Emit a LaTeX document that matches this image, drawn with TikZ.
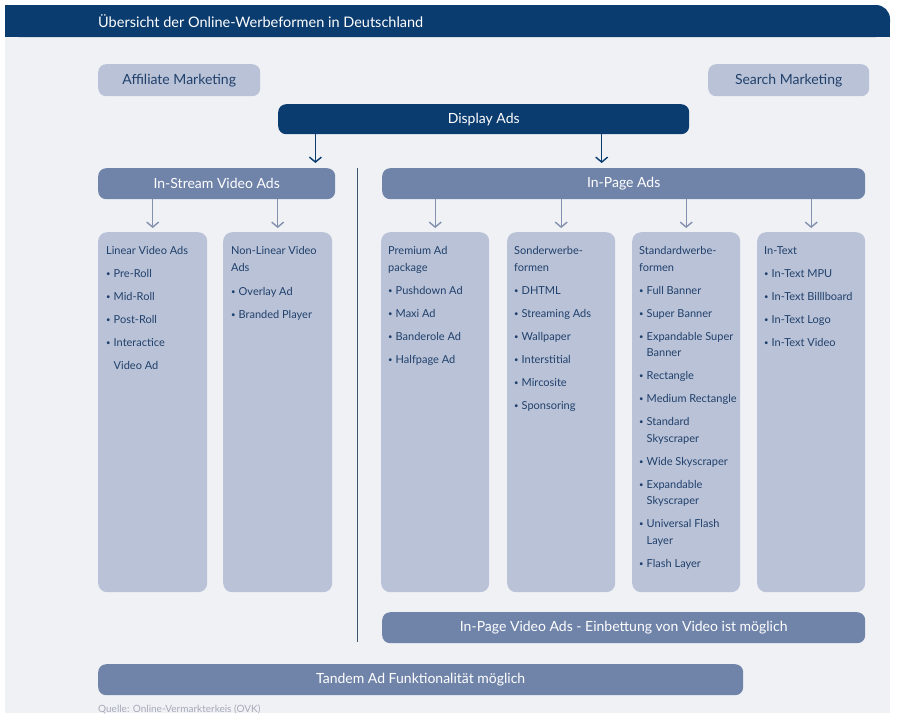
\documentclass[tikz,border=0pt]{standalone}
\usepackage{fontspec}
\setmainfont{Lato}
\usetikzlibrary{arrows.meta}
\usetikzlibrary{positioning}
\definecolor{ovkdark}{HTML}{0B3C70}
\definecolor{ovkmid}{HTML}{7084AA}
\definecolor{ovklight}{HTML}{B9C2D6}
\definecolor{ovkbg}{HTML}{EFF1F5}
\definecolor{ovktext}{HTML}{20406C}
\definecolor{ovkarrow}{HTML}{8391AE}
\definecolor{ovksrc}{HTML}{A6ABB8}
\definecolor{ovkline}{HTML}{3E5570}
\tikzset{lightbox/.style = {fill = ovklight, rounded corners = 8pt, anchor = north west, inner sep = 0, minimum height = 32pt, text = ovktext, font = \fontsize{14}{16}\selectfont}}
\tikzset{midbox/.style = {fill = ovkmid, rounded corners = 8pt, anchor = north west, inner sep = 0, minimum height = 31pt, text = white, font = \fontsize{14}{16}\selectfont}}
\tikzset{darkbox/.style = {fill = ovkdark, rounded corners = 8pt, anchor = north west, inner sep = 0, minimum height = 30pt, text = white, font = \fontsize{14}{16}\selectfont}}
\tikzset{colbox/.style = {fill = ovklight, rounded corners = 9pt, anchor = north west, inner sep = 0, minimum width = 108pt, minimum height = 360pt}}
\tikzset{coltext/.style = {anchor = north west, align = left, inner sep = 0, text = ovktext, font = \fontsize{11}{16.5}\selectfont}}
\tikzset{disparrow/.style = {draw = ovkdark, line width = 1.4pt, -{Straight Barb[length = 5pt, width = 12pt]}, shorten > = 5pt}}
\tikzset{grayarrow/.style = {draw = ovkarrow, line width = 1.4pt, -{Straight Barb[length = 5pt, width = 12pt]}, shorten > = 4pt}}
\newcommand{\bul}{\makebox[7.5pt][l]{\raisebox{0.15ex}{\scalebox{0.7}{•}}}}
\newcommand{\ind}{\hspace*{7.5pt}}

\begin{document}
\begin{tikzpicture}[x = 1pt, y = -1pt]
      \useasboundingbox (0, 0) rectangle (900, 721);
      \fill [ovkbg] (5, 37) rectangle (890, 713);
      \fill [ovkdark, rounded corners = 14pt] (5, 5) rectangle (890, 37);
      \fill [ovkdark] (5, 5) rectangle (40, 37);
      \fill [ovkdark] (40, 21) rectangle (890, 37);
      \node [anchor = west, inner sep = 0, text = white, font = \fontsize{14.5}{16}\selectfont] (title) at (98, 21) {Übersicht der Online-Werbeformen in Deutschland};

      \node [lightbox, minimum width = 162pt] (affil) at (98, 64) {Affiliate Marketing};
      \node [lightbox, minimum width = 161pt] (search) at (708, 64) {Search Marketing};
      \node [darkbox, minimum width = 411pt] (disp) at (278, 104) {Display Ads};
      \node [midbox, minimum width = 237pt] (instr) at (98, 168) {In-Stream Video Ads};
      \node [midbox, minimum width = 483pt] (inpage) at (382, 168) {In-Page Ads};

      \coordinate (da1) at ([xshift = -20pt]instr.north east);
      \coordinate (da2) at ([xshift = -22pt]inpage.north);
      \draw [disparrow] (da1 |- disp.south) -- (da1);
      \draw [disparrow] (da2 |- disp.south) -- (da2);

      \coordinate (septop) at (357, 168);
      \coordinate (sepbot) at (357, 642);
      \draw [ovkline, line width = 1pt] (septop) -- (sepbot);

      \node [colbox, minimum width = 109pt] (linear) at (98, 232) {};
      \node [colbox, minimum width = 109pt] (nonlin) at (223, 232) {};
      \node [colbox] (premium) at (381, 232) {};
      \node [colbox] (sonder) at (507, 232) {};
      \node [colbox] (standard) at (632, 232) {};
      \node [colbox] (intext) at (757, 232) {};

      \draw [grayarrow] (instr.south -| linear.north) -- (linear.north);
      \draw [grayarrow] (instr.south -| nonlin.north) -- (nonlin.north);
      \draw [grayarrow] (inpage.south -| premium.north) -- (premium.north);
      \draw [grayarrow] (inpage.south -| sonder.north) -- (sonder.north);
      \draw [grayarrow] (inpage.south -| standard.north) -- (standard.north);
      \draw [grayarrow] (inpage.south -| intext.north) -- (intext.north);

      \node [coltext] (lineartxt) at ([xshift = 8pt, yshift = -14.5pt]linear.north west) {Linear Video Ads\\[6.5pt]\bul Pre-Roll\\[6.5pt]\bul Mid-Roll\\[6.5pt]\bul Post-Roll\\[6.5pt]\bul Interactice\\[6.5pt]\ind Video Ad};
      \node [coltext] (nonlintxt) at ([xshift = 8pt, yshift = -14.5pt]nonlin.north west) {Non-Linear Video\\Ads\\[8pt]\bul Overlay Ad\\[6.5pt]\bul Branded Player};
      \node [coltext] (premiumtxt) at ([xshift = 7pt, yshift = -14.5pt]premium.north west) {Premium Ad\\package\\[6.5pt]\bul Pushdown Ad\\[6.5pt]\bul Maxi Ad\\[6.5pt]\bul Banderole Ad\\[6.5pt]\bul Halfpage Ad};
      \node [coltext] (sondertxt) at ([xshift = 7pt, yshift = -14.5pt]sonder.north west) {Sonderwerbe-\\formen\\[6.5pt]\bul DHTML\\[6.5pt]\bul Streaming Ads\\[6.5pt]\bul Wallpaper\\[6.5pt]\bul Interstitial\\[6.5pt]\bul Mircosite\\[6.5pt]\bul Sponsoring};
      \node [coltext] (standardtxt) at ([xshift = 7pt, yshift = -14.5pt]standard.north west) {Standardwerbe-\\formen\\[6.5pt]\bul Full Banner\\[6.5pt]\bul Super Banner\\[6.5pt]\bul Expandable Super\\\ind Banner\\[6.5pt]\bul Rectangle\\[6.5pt]\bul Medium Rectangle\\[6.5pt]\bul Standard\\\ind Skyscraper\\[6.5pt]\bul Wide Skyscraper\\[6.5pt]\bul Expandable\\\ind Skyscraper\\[6.5pt]\bul Universal Flash\\\ind Layer\\[6.5pt]\bul Flash Layer};
      \node [coltext] (intexttxt) at ([xshift = 7pt, yshift = -14.5pt]intext.north west) {In-Text\\[6.5pt]\bul In-Text MPU\\[6.5pt]\bul In-Text Billlboard\\[6.5pt]\bul In-Text Logo\\[6.5pt]\bul In-Text Video};

      \node [midbox, minimum width = 483pt] (pagevideo) at (382, 612) {In-Page Video Ads - Einbettung von Video ist möglich};
      \node [midbox, minimum width = 645pt] (tandem) at (98, 664) {Tandem Ad Funktionalität möglich};
      \node [anchor = west, inner sep = 0, text = ovksrc, font = \fontsize{10}{12}\selectfont] (source) at (98, 709) {Quelle: Online-Vermarkterkeis (OVK)};
    \end{tikzpicture}
\end{document}
